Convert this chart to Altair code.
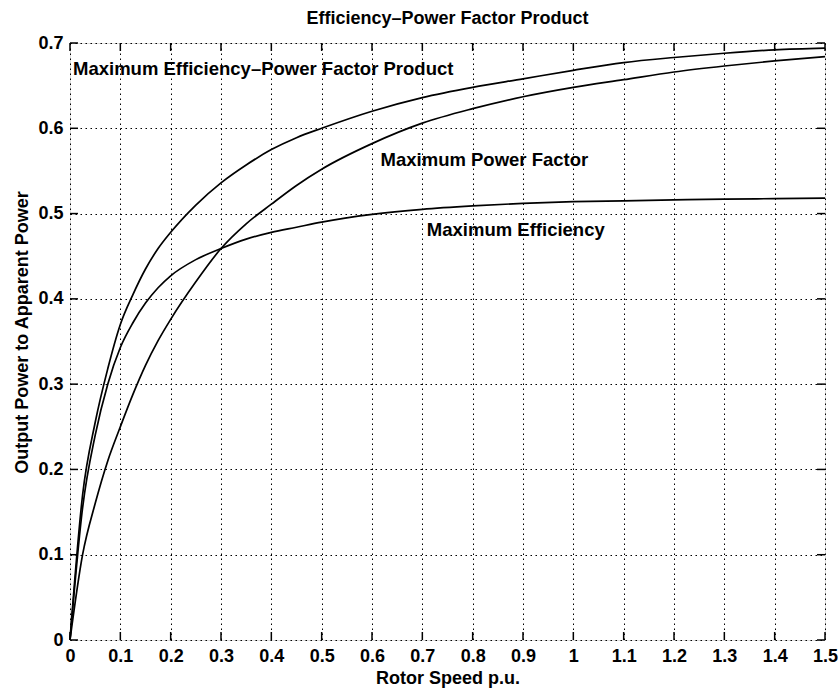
import altair as alt
import pandas as pd

# Rotor speed (p.u.) sample points
speed = [0, 0.025, 0.05, 0.075, 0.1, 0.125, 0.15, 0.175, 0.2, 0.25, 0.3, 0.35,
         0.4, 0.45, 0.5, 0.6, 0.7, 0.8, 0.9, 1.0, 1.1, 1.2, 1.3, 1.4, 1.5]

# Output power to apparent power for each operating strategy
max_product = [0, 0.17, 0.255, 0.318, 0.37, 0.405, 0.435, 0.459, 0.478, 0.51, 0.536,
               0.557, 0.575, 0.589, 0.600, 0.62, 0.636, 0.648, 0.658, 0.668, 0.677,
               0.683, 0.688, 0.692, 0.694]
max_efficiency = [0, 0.155, 0.24, 0.30, 0.343, 0.372, 0.395, 0.413, 0.427, 0.446, 0.459,
                  0.47, 0.478, 0.484, 0.49, 0.499, 0.505, 0.509, 0.512, 0.514, 0.515,
                  0.516, 0.517, 0.5175, 0.518]
max_power_factor = [0, 0.1, 0.16, 0.21, 0.25, 0.288, 0.322, 0.351, 0.376, 0.42, 0.459,
                    0.488, 0.511, 0.533, 0.552, 0.582, 0.606, 0.623, 0.637, 0.648, 0.657,
                    0.666, 0.673, 0.679, 0.684]

series_names = ["Maximum Efficiency\u2013Power Factor Product",
                "Maximum Efficiency",
                "Maximum Power Factor"]

# Curve annotations
label_text = ["Maximum Efficiency\u2013Power Factor Product",
              "Maximum Power Factor",
              "Maximum Efficiency"]
label_x = [0.006, 0.617, 0.709]
label_y = [0.669, 0.563, 0.481]

x_ticks = [round(i * 0.1, 1) for i in range(16)]
y_ticks = [round(i * 0.1, 1) for i in range(8)]

W, H = 755, 597
FONT = "Liberation Sans"

rows = []
for name, vals in zip(series_names, [max_product, max_efficiency, max_power_factor]):
    for s, v in zip(speed, vals):
        rows.append({"speed": s, "ratio": v, "series": name})
curves = pd.DataFrame(rows)
labels = pd.DataFrame({"text": label_text, "x": label_x, "y": label_y})
xt = pd.DataFrame({"v": x_ticks})
yt = pd.DataFrame({"v": y_ticks})

x_scale = alt.Scale(domain=[0, 1.5], nice=False, zero=False)
y_scale = alt.Scale(domain=[0, 0.7], nice=False, zero=False)

common = dict(grid=True, gridDash=[1.5, 3.5], gridColor="black", gridOpacity=1,
              gridWidth=1, tickSize=0, domain=False, labelFont=FONT,
              labelFontSize=18, labelFontWeight="bold", labelColor="black",
              titleFont=FONT, titleFontSize=18, titleFontWeight="bold",
              titleColor="black", labelFlush=False, format=".1~f")

x_axis = alt.Axis(values=x_ticks, title="Rotor Speed p.u.", labelPadding=7,
                  titleBaseline="alphabetic", titleY=43, **common)
y_axis = alt.Axis(values=y_ticks, title="Output Power to Apparent Power",
                  labelPadding=7, titleX=-48, titleY=289, titleAngle=270,
                  titleAlign="center", titleBaseline="middle", **common)

lines = alt.Chart(curves).mark_line(color="black", strokeWidth=1.7,
                                    interpolate="monotone").encode(
    x=alt.X("speed:Q", scale=x_scale, axis=x_axis),
    y=alt.Y("ratio:Q", scale=y_scale, axis=y_axis),
    detail="series:N",
)

text = alt.Chart(labels).mark_text(align="left", baseline="middle", font=FONT,
                                   fontSize=18.5, fontWeight="bold",
                                   color="black").encode(
    x=alt.X("x:Q", scale=x_scale),
    y=alt.Y("y:Q", scale=y_scale),
    text="text:N",
)

# Inward tick marks on all four sides of the box
tick_style = dict(color="black", strokeWidth=1.5)
xb = alt.Chart(xt).mark_rule(**tick_style).encode(
    x=alt.X("v:Q", scale=x_scale), y=alt.value(H), y2=alt.value(H - 8))
xtop = alt.Chart(xt).mark_rule(**tick_style).encode(
    x=alt.X("v:Q", scale=x_scale), y=alt.value(0), y2=alt.value(8))
yl = alt.Chart(yt).mark_rule(**tick_style).encode(
    y=alt.Y("v:Q", scale=y_scale), x=alt.value(0), x2=alt.value(8))
yr = alt.Chart(yt).mark_rule(**tick_style).encode(
    y=alt.Y("v:Q", scale=y_scale), x=alt.value(W), x2=alt.value(W - 8))

chart = alt.layer(lines, text, xb, xtop, yl, yr).properties(
    width=W, height=H,
    title=alt.TitleParams("Efficiency\u2013Power Factor Product", font=FONT,
                          fontSize=18, fontWeight="bold", color="black",
                          anchor="middle", offset=6),
    autosize=alt.AutoSizeParams(type="none"),
    padding={"left": 70, "top": 43, "right": 14, "bottom": 55},
).configure_view(stroke="black", strokeWidth=2).configure(background="white")

chart.save("out.html", embed_options={"renderer": "svg", "actions": False})
